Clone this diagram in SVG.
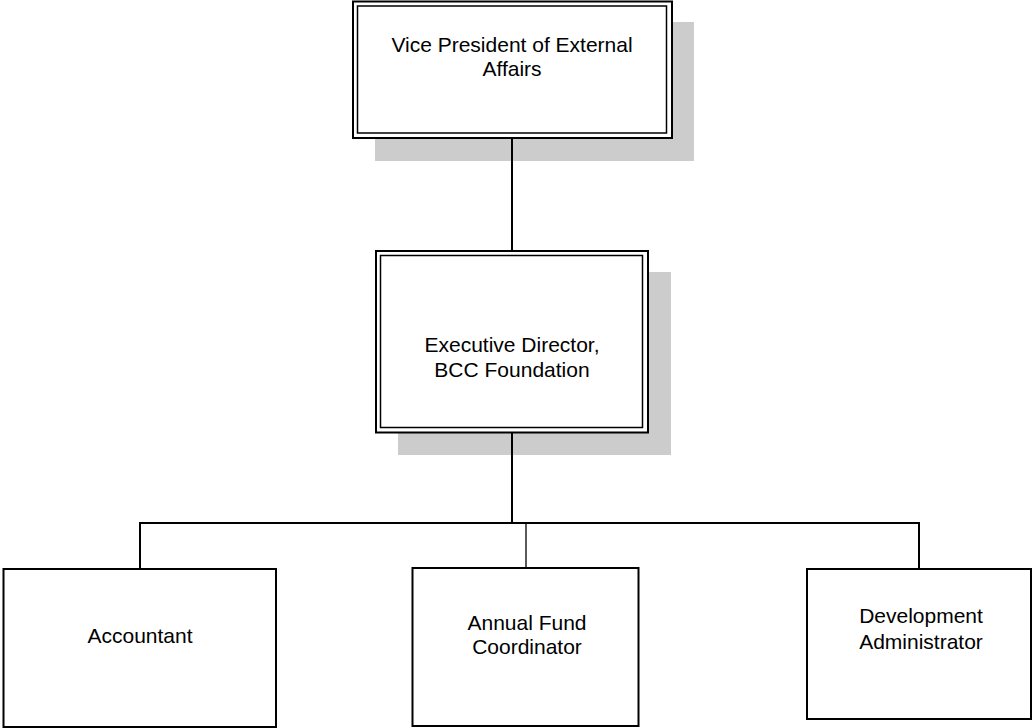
<svg xmlns="http://www.w3.org/2000/svg" width="1032" height="728" viewBox="0 0 1032 728">
<style>
.shadow{fill:#cccccc;stroke:none}
.outer{fill:#ffffff;stroke:#000;stroke-width:2}
.inner{fill:none;stroke:#000;stroke-width:1.5}
.box{fill:#ffffff;stroke:#000;stroke-width:2}
.lbl{font-family:"Liberation Sans",Arial,sans-serif;font-size:21px;fill:#000;text-anchor:middle}
.conn{fill:none;stroke:#000;stroke-width:2}
.thin{stroke-width:1.3}
</style>
<rect width="1032" height="728" fill="#ffffff"/>
<g id="node-vp">
<rect class="shadow" x="375" y="22" width="319" height="139"/>
<rect class="outer" x="353" y="1.5" width="319" height="136.5"/>
<rect class="inner" x="357.5" y="6" width="309" height="127"/>
<text class="lbl" x="512" y="52">Vice President of External</text>
<text class="lbl" x="512" y="76">Affairs</text>
</g>
<g id="node-ed">
<rect class="shadow" x="398" y="272" width="273" height="183"/>
<rect class="outer" x="376" y="251" width="272" height="181.5"/>
<rect class="inner" x="380.5" y="255.5" width="262" height="172"/>
<text class="lbl" x="512" y="352">Executive Director,</text>
<text class="lbl" x="512" y="377">BCC Foundation</text>
</g>
<g id="connectors">
<line class="conn" x1="512" y1="138" x2="512" y2="251"/>
<line class="conn" x1="512" y1="432" x2="512" y2="523"/>
<line class="conn" x1="139" y1="523" x2="920" y2="523"/>
<line class="conn" x1="140" y1="522" x2="140" y2="569"/>
<line class="conn thin" x1="526" y1="523" x2="526" y2="568"/>
<line class="conn" x1="919" y1="522" x2="919" y2="569"/>
</g>
<g id="node-accountant">
<rect class="box" x="3.5" y="569" width="272.5" height="158"/>
<text class="lbl" x="140" y="643">Accountant</text>
</g>
<g id="node-annual">
<rect class="box" x="412.5" y="568" width="226" height="158"/>
<text class="lbl" x="527" y="630">Annual Fund</text>
<text class="lbl" x="527" y="654">Coordinator</text>
</g>
<g id="node-dev">
<rect class="box" x="807" y="569" width="224" height="150"/>
<text class="lbl" x="921" y="623">Development</text>
<text class="lbl" x="921" y="649">Administrator</text>
</g>
</svg>
